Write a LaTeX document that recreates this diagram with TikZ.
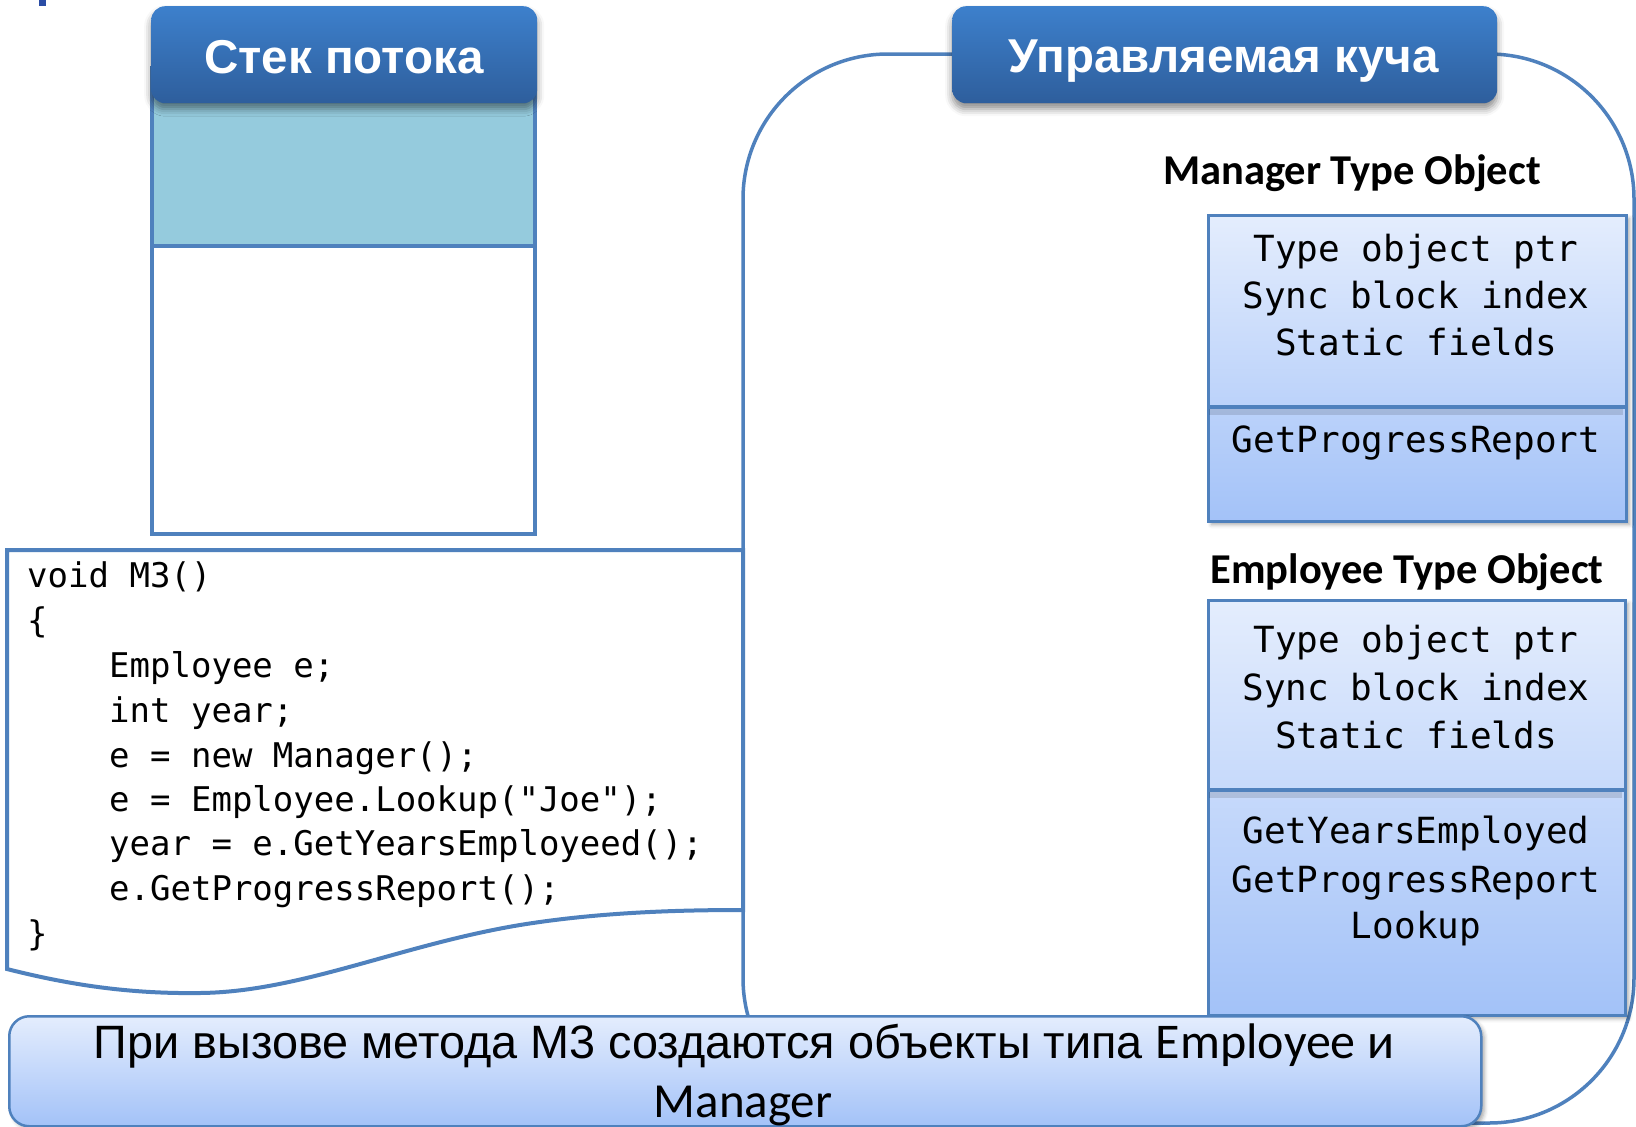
\documentclass[tikz,border=0pt]{standalone}
\usepackage{fontspec}
\setmainfont{Liberation Sans}
\newfontfamily\hdfont{Liberation Sans}
\newfontfamily\calfont{Carlito}
\newfontfamily\codefont{DejaVu Sans Mono}
\usetikzlibrary{shadows.blur}

\definecolor{lineblue}{HTML}{4F81BD}
\definecolor{hdtop}{HTML}{3D80CC}
\definecolor{hdbot}{HTML}{2E5E9C}
\definecolor{stackblue}{HTML}{95CBDD}
\definecolor{boxtop}{HTML}{E4EDFD}
\definecolor{boxbot}{HTML}{A3C2F8}
\definecolor{markblue}{HTML}{2B4DA5}

\tikzset{
  outline/.style={draw=lineblue, line width=4pt},
  headerbox/.style={rectangle, rounded corners=14pt, top color=hdtop, bottom color=hdbot,
    inner sep=0pt, anchor=north west,
    blur shadow={shadow xshift=0pt, shadow yshift=-6pt, shadow blur radius=7pt, shadow opacity=45}},
  headertext/.style={anchor=base, inner sep=0pt, text=white,
    font=\hdfont\bfseries\fontsize{47.5}{50}\selectfont},
  typebox/.style={rectangle, anchor=north west, inner sep=0pt, draw=lineblue, line width=3pt,
    top color=boxtop, bottom color=boxbot,
    blur shadow={shadow xshift=3pt, shadow yshift=-3pt, shadow blur radius=4pt, shadow opacity=35}},
  typelabel/.style={anchor=base, inner sep=0pt, font=\calfont\bfseries\fontsize{42.5}{46}\selectfont},
  slot/.style={anchor=base, inner sep=0pt, font=\codefont\fontsize{36}{40}\selectfont},
  code/.style={anchor=base west, inner sep=0pt, font=\codefont\fontsize{34}{40}\selectfont},
}

\begin{document}
\begin{tikzpicture}[x=1pt, y=-1pt]
\useasboundingbox (0,0) rectangle (1636,1127);

% small fragment in the upper left corner
\fill[markblue] (39,0) rectangle (46,6);

% managed heap outline
\draw[outline, line width=3.5pt, rounded corners=145pt] (743,54) rectangle (1634,1123);

% source of method M3
\draw[outline, fill=white] (743,550) -- (7,550) -- (7,969)
  .. controls (70,985) and (130,994) .. (200,993)
  .. controls (300,992) and (400,945) .. (520,925)
  .. controls (600,912) and (680,910) .. (743,910) -- cycle;

\node[code] (c1) at (27,587) {void M3()};
\node[code] (c2) at (27,632) {\{};
\node[code] (c3) at (109,677) {Employee e;};
\node[code] (c4) at (109,722) {int year;};
\node[code] (c5) at (109,767) {e = new Manager();};
\node[code] (c6) at (109,811) {e = Employee.Lookup("Joe");};
\node[code] (c7) at (109,855) {year = e.GetYearsEmployeed();};
\node[code] (c8) at (109,900) {e.GetProgressReport();};
\node[code] (c9) at (27,945) {\}};

% thread stack
\fill[stackblue] (152,68) rectangle (535,246);
\draw[outline] (152,68) rectangle (535,534);
\draw[outline] (152,246) -- (535,246);

% headers
\node[headerbox, minimum width=386pt, minimum height=97pt] (stackhdr) at (151,6) {};
\node[headertext] (stacktxt) at (344,73) {Стек потока};
\node[headerbox, minimum width=545pt, minimum height=97pt] (heaphdr) at (952,6) {};
\node[headertext] (heaptxt) at (1224,72) {Управляемая куча};

% Manager type object
\node[typelabel] (mlabel) at (1352,184) {Manager Type Object};
\node[typebox, minimum width=418pt, minimum height=306pt] (mbox) at (1207,214) {};
\fill[black, opacity=0.12] (1209,409) rectangle (1623,415);
\draw[draw=lineblue, line width=4pt] (1207,407) -- (1625,407);
\node[slot] (m1) at (1416,261) {Type object ptr};
\node[slot] (m2) at (1416,308) {Sync block index};
\node[slot] (m3) at (1416,355) {Static fields};
\node[slot] (m4) at (1416,452) {GetProgressReport};

% Employee type object
\node[typelabel] (elabel) at (1407,583) {Employee Type Object};
\node[typebox, minimum width=417pt, minimum height=415pt] (ebox) at (1207,599) {};
\fill[black, opacity=0.12] (1209,792) rectangle (1622,798);
\draw[draw=lineblue, line width=4pt] (1207,790) -- (1624,790);
\node[slot] (e1) at (1416,652) {Type object ptr};
\node[slot] (e2) at (1416,700) {Sync block index};
\node[slot] (e3) at (1416,748) {Static fields};
\node[slot] (e4) at (1416,843) {GetYearsEmployed};
\node[slot] (e5) at (1416,892) {GetProgressReport};
\node[slot] (e6) at (1416,938) {Lookup};

% caption
\node[rectangle, rounded corners=20pt, anchor=north west, inner sep=0pt,
  minimum width=1472pt, minimum height=110pt, draw=lineblue, line width=2.5pt,
  top color=boxtop, bottom color=boxbot,
  blur shadow={shadow xshift=3pt, shadow yshift=-3pt, shadow blur radius=4pt, shadow opacity=35}]
  (caption) at (8,1015) {};
\node[anchor=base, inner sep=0pt, font=\fontsize{46.8}{50}\selectfont] (cap1) at (744,1058)
  {При вызове метода М3 создаются объекты типа {\calfont\fontsize{50}{50}\selectfont Employee и}};
\node[anchor=base, inner sep=0pt, font=\calfont\fontsize{49}{50}\selectfont] (cap2) at (743,1117) {Manager};
\end{tikzpicture}
\end{document}
